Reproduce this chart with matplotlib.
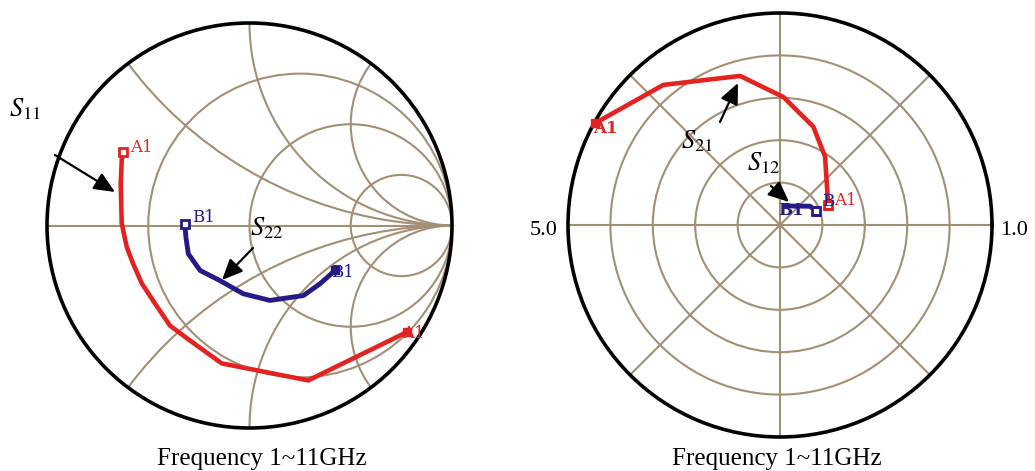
import numpy as np
import matplotlib
matplotlib.use('Agg')
import matplotlib.pyplot as plt
from matplotlib.patches import Circle, FancyArrowPatch

# ---------------- data ----------------
# Smith chart (reflection coefficient, real / imag)
s11_re = [-0.626, -0.631, -0.636, -0.631, -0.606, -0.575, -0.532, -0.467, -0.393, -0.294, -0.137, 0.290, 0.776]
s11_im = [0.365, 0.321, 0.207, 0.010, -0.107, -0.188, -0.286, -0.385, -0.494, -0.568, -0.681, -0.765, -0.527]
s22_re = [-0.319, -0.314, -0.302, -0.244, -0.146, -0.031, 0.101, 0.266, 0.348, 0.422]
s22_im = [0.005, -0.058, -0.140, -0.222, -0.272, -0.337, -0.370, -0.346, -0.288, -0.222]

# Polar chart (magnitude / angle in degrees)
s21_mag = [4.98, 4.30, 3.64, 3.02, 2.45, 1.93, 1.23]
s21_ang = [151.2, 129.8, 105.0, 88.5, 71.3, 56.6, 22.5]
s12_mag = [0.093, 0.120, 0.167, 0.182]
s12_ang = [75, 48, 32, 21]
s21_scale = 5.0
s12_scale = 1.0

smith_r = [1 / 3, 1, 3]
smith_x = [0.5, 1, 2]
polar_rings = [0.2, 0.4, 0.6, 0.8]
polar_spokes = [0, 45, 90, 135, 180, 225, 270, 315]

title_text = "Frequency 1~11GHz"

# ---------------- style ----------------
W, H = 1035, 471
TAN = '#a38f74'
RED = '#e42320'
BLUE = '#251a86'
plt.rcParams['mathtext.fontset'] = 'stix'

fig = plt.figure(figsize=(W / 100, H / 100), dpi=100)

# ---------------- Smith chart ----------------
cx, cy, R = 249.5, 225.5, 202.5
m = 1.05
axs = fig.add_axes([(cx - R * m) / W, (H - cy - R * m) / H, 2 * R * m / W, 2 * R * m / H])
axs.set_xlim(-m, m)
axs.set_ylim(-m, m)
axs.axis('off')

outer = Circle((0, 0), 1, fill=False, ec='black', lw=2.6, zorder=4)
axs.add_patch(outer)
axs.plot([-1, 1], [0, 0], color=TAN, lw=1.5, zorder=1)
for r in smith_r:
    axs.add_patch(Circle((r / (1 + r), 0), 1 / (1 + r), fill=False, ec=TAN, lw=1.5, zorder=1))
for x in smith_x:
    for sgn in (1, -1):
        c = Circle((1, sgn / x), 1 / x, fill=False, ec=TAN, lw=1.5, zorder=1)
        axs.add_patch(c)
        c.set_clip_path(outer)

axs.plot(s11_re, s11_im, color=RED, lw=3.3, zorder=5, solid_joinstyle='miter')
axs.plot(s22_re, s22_im, color=BLUE, lw=3.5, zorder=5)

mk = dict(marker='s', ms=6, zorder=7, ls='none')
axs.plot(s11_re[0], s11_im[0], mfc='white', mec=RED, mew=2, **mk)
axs.plot(s11_re[-1], s11_im[-1], mfc=RED, mec=RED, **mk)
axs.plot(s22_re[0], s22_im[0], mfc='white', mec=BLUE, mew=2, **mk)
axs.plot(s22_re[-1], s22_im[-1], mfc=BLUE, mec=BLUE, **mk)

lab = dict(textcoords='offset points', family='DejaVu Serif', fontsize=12,
           ha='left', va='center', annotation_clip=False)
axs.annotate('A1', (s11_re[0], s11_im[0]), xytext=(5.0, 3.0), color=RED, zorder=6, **lab)
axs.annotate('A1', (s11_re[-1], s11_im[-1]), xytext=(-3.4, -1.0), color=RED, zorder=6, **lab)
axs.annotate('B1', (s22_re[0], s22_im[0]), xytext=(5.5, 5.0), color=BLUE, zorder=6, **lab)
axs.annotate('B1', (s22_re[-1], s22_im[-1]), xytext=(-2.5, -1.5), color=BLUE, zorder=6, **lab)

# ---------------- Polar chart ----------------
pcx, pcy, PR = 780, 225, 212
axp = fig.add_axes([(pcx - PR) / W, (H - pcy - PR) / H, 2 * PR / W, 2 * PR / H], projection='polar')
axp.set_ylim(0, 1)
axp.set_yticks(polar_rings)
axp.set_xticks(np.deg2rad(polar_spokes))
axp.set_xticklabels([])
axp.set_yticklabels([])
axp.grid(True, color=TAN, lw=1.5)
axp.tick_params(length=0)
axp.spines['polar'].set_color('black')
axp.spines['polar'].set_linewidth(2.6)
axp.set_facecolor('white')

t21 = np.deg2rad(s21_ang)
r21 = np.array(s21_mag) / s21_scale
t12 = np.deg2rad(s12_ang)
r12 = np.array(s12_mag) / s12_scale
axp.plot(t21, r21, color=RED, lw=3.3, zorder=5, clip_on=False)
axp.plot(t12, r12, color=BLUE, lw=3.5, zorder=5)

axp.plot(t21[0], r21[0], mfc=RED, mec=RED, clip_on=False, **mk)
axp.plot(t21[-1], r21[-1], mfc='white', mec=RED, mew=2, **mk)
axp.plot(t12[-1], r12[-1], mfc='white', mec=BLUE, mew=2, **mk)

axp.annotate('A1', (t21[0], r21[0]), xytext=(-1.5, -3.5), color=RED, fontweight='bold', zorder=8, **lab)
axp.annotate('B1', (t12[0], r12[0]), xytext=(-5.0, -3.0), color=BLUE, fontweight='bold', zorder=8, **lab)
axp.annotate('B', (t12[-1], r12[-1]), xytext=(4.3, 7.0), color=BLUE, zorder=8, **lab)
axp.annotate('A1', (t21[-1], r21[-1]), xytext=(4.0, 3.6), color=RED, zorder=9, **lab)

# ---------------- labels / arrows (figure pixels) ----------------
slab = dict(fontsize=19, ha='left', va='baseline', color='black')
fig.text(9 / W, 355 / H, r'$S_{11}$', **slab)
fig.text(250 / W, 236 / H, r'$S_{22}$', **slab)
fig.text(681 / W, 323 / H, r'$S_{21}$', **slab)
fig.text(747 / W, 301 / H, r'$S_{12}$', **slab)

arw = dict(arrowstyle='-|>,head_length=0.9,head_width=0.4', color='black', lw=1.6, shrinkA=0, shrinkB=0)
for tail, head in [((55, 316), (115, 279)), ((253, 223), (222, 191)),
                   ((720, 349), (738, 388)), ((771, 285), (789, 269))]:
    fig.add_artist(FancyArrowPatch(
        (tail[0] / W, tail[1] / H), (head[0] / W, head[1] / H),
        transform=fig.transFigure, mutation_scale=14, **arw))

tfont = dict(family='Liberation Serif', fontsize=18, ha='center', va='baseline')
fig.text(262 / W, 6 / H, title_text, **tfont)
fig.text(776.5 / W, 6 / H, title_text, **tfont)
fig.text(558 / W, 236 / H, '5.0', family='Liberation Serif', fontsize=16, ha='right', va='baseline')
fig.text(1000 / W, 236 / H, '1.0', family='Liberation Serif', fontsize=16, ha='left', va='baseline')

fig.savefig('out.png', dpi=100, facecolor='white')
